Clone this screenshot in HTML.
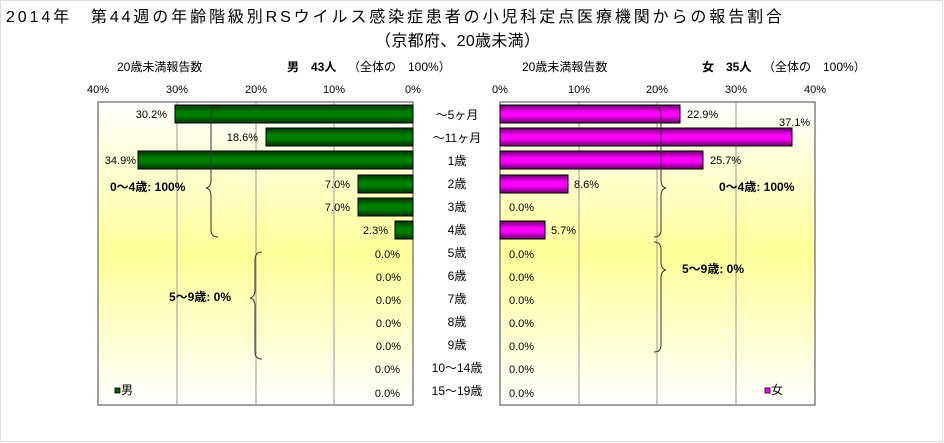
<!DOCTYPE html>
<html><head><meta charset="utf-8"><style>
body{margin:0;background:#fff}
svg{display:block;font-family:"Liberation Sans","Noto Sans CJK JP",sans-serif}
</style></head><body>
<svg width="944" height="443" viewBox="0 0 944 443" xmlns="http://www.w3.org/2000/svg">
<defs>
<linearGradient id="bg" x1="0" y1="0" x2="0" y2="1">
<stop offset="0" stop-color="#ffffff"/><stop offset="0.5" stop-color="#ffff99"/><stop offset="1" stop-color="#ffffff"/>
</linearGradient>
<linearGradient id="g" x1="0" y1="0" x2="0" y2="1">
<stop offset="0" stop-color="#003300"/><stop offset="0.4" stop-color="#008000"/><stop offset="0.6" stop-color="#008000"/><stop offset="1" stop-color="#003300"/>
</linearGradient>
<linearGradient id="m" x1="0" y1="0" x2="0" y2="1">
<stop offset="0" stop-color="#660066"/><stop offset="0.4" stop-color="#ff00ff"/><stop offset="0.6" stop-color="#ff00ff"/><stop offset="1" stop-color="#660066"/>
</linearGradient>
</defs>
<rect x="0.5" y="0.5" width="942" height="441" fill="#fff" stroke="#ddd"/>
<text x="6" y="22" font-size="16" textLength="776" lengthAdjust="spacing">2014年　第44週の年齢階級別RSウイルス感染症患者の小児科定点医療機関からの報告割合</text>
<text x="375" y="46" font-size="16" textLength="165" lengthAdjust="spacing">（京都府、20歳未満）</text>
<g font-size="12">
<text x="117" y="71">20歳未満報告数</text>
<text x="287" y="71" font-weight="bold">男　43人</text><text x="348" y="71">（全体の　100%）</text>
<text x="522" y="71">20歳未満報告数</text>
<text x="702" y="71" font-weight="bold">女　35人</text><text x="763" y="71">（全体の　100%）</text>
</g>
<g font-size="11" text-anchor="middle">
<text x="98" y="93">40%</text><text x="177" y="93">30%</text><text x="256" y="93">20%</text><text x="334" y="93">10%</text><text x="413" y="93">0%</text>
<text x="500" y="93">0%</text><text x="579" y="93">10%</text><text x="657" y="93">20%</text><text x="736" y="93">30%</text><text x="815" y="93">40%</text>
</g>
<rect x="98" y="102" width="315" height="303" fill="url(#bg)" stroke="#444"/>
<rect x="500" y="102" width="315" height="303" fill="url(#bg)" stroke="#444"/>
<g stroke="#999">
<line x1="177" y1="102" x2="177" y2="405"/><line x1="256" y1="102" x2="256" y2="405"/><line x1="334" y1="102" x2="334" y2="405"/>
<line x1="579" y1="102" x2="579" y2="405"/><line x1="657" y1="102" x2="657" y2="405"/><line x1="736" y1="102" x2="736" y2="405"/>
</g>
<g stroke="#000" stroke-width="1">
<rect x="175" y="105" width="238" height="18" fill="url(#g)"/>
<rect x="266" y="128" width="147" height="18" fill="url(#g)"/>
<rect x="138" y="151" width="275" height="18" fill="url(#g)"/>
<rect x="358" y="175" width="55" height="18" fill="url(#g)"/>
<rect x="358" y="198" width="55" height="18" fill="url(#g)"/>
<rect x="395" y="221" width="18" height="18" fill="url(#g)"/>
<rect x="500" y="105" width="180" height="18" fill="url(#m)"/>
<rect x="500" y="128" width="292" height="18" fill="url(#m)"/>
<rect x="500" y="151" width="203" height="18" fill="url(#m)"/>
<rect x="500" y="175" width="68" height="18" fill="url(#m)"/>
<rect x="500" y="221" width="45" height="18" fill="url(#m)"/>
</g>
<g font-size="11" text-anchor="end">
<text x="167" y="118">30.2%</text><text x="258" y="141">18.6%</text><text x="136" y="164">34.9%</text>
<text x="350" y="188">7.0%</text><text x="350" y="211">7.0%</text><text x="388" y="234">2.3%</text>
<text x="400" y="258">0.0%</text><text x="401" y="281">0.0%</text><text x="401" y="304">0.0%</text><text x="401" y="327">0.0%</text><text x="401" y="350">0.0%</text><text x="400" y="373">0.0%</text><text x="400" y="397">0.0%</text>
</g>
<g font-size="11">
<text x="687" y="118">22.9%</text><text x="779" y="126">37.1%</text><text x="710" y="164">25.7%</text><text x="574" y="188">8.6%</text>
<text x="509" y="211">0.0%</text><text x="551" y="234">5.7%</text>
<text x="509" y="258">0.0%</text><text x="509" y="281">0.0%</text><text x="509" y="304">0.0%</text><text x="509" y="327">0.0%</text><text x="509" y="350">0.0%</text><text x="509" y="373">0.0%</text><text x="509" y="397">0.0%</text>
</g>
<g font-size="12" text-anchor="middle">
<text x="457" y="119">～5ヶ月</text><text x="457" y="142">～11ヶ月</text><text x="457" y="165">1歳</text><text x="457" y="188">2歳</text><text x="457" y="211">3歳</text><text x="457" y="234">4歳</text><text x="457" y="257">5歳</text><text x="457" y="280">6歳</text><text x="457" y="303">7歳</text><text x="457" y="326">8歳</text><text x="457" y="349">9歳</text><text x="457" y="372">10～14歳</text><text x="457" y="395">15～19歳</text>
</g>
<g fill="none" stroke="#333">
<path d="M218,107 Q211,107 211,115 L211,180 Q211,187 206,188 Q211,189 211,196 L211,230 Q211,237 218,237"/>
<path d="M262,252 Q255,252 255,260 L255,290 Q255,297 250,298 Q255,299 255,306 L255,352 Q255,359 262,359"/>
<path d="M654,107 Q661,107 661,115 L661,180 Q661,187 666,188 Q661,189 661,196 L661,230 Q661,237 654,237"/>
<path d="M654,242 Q661,242 661,250 L661,262 Q661,269 666,270 Q661,271 661,278 L661,345 Q661,352 654,352"/>
</g>
<g font-size="12" font-weight="bold">
<text x="110" y="191">0～4歳: 100%</text><text x="169" y="301">5～9歳: 0%</text>
<text x="719" y="191">0～4歳: 100%</text><text x="682" y="273">5～9歳: 0%</text>
</g>
<rect x="115" y="388" width="5" height="5" fill="#006600" stroke="#000" stroke-width="0.8"/>
<text x="121" y="394" font-size="12">男</text>
<rect x="765" y="388" width="5" height="5" fill="#ff00ff" stroke="#000" stroke-width="0.8"/>
<text x="771" y="394" font-size="12">女</text>
</svg>
</body></html>
